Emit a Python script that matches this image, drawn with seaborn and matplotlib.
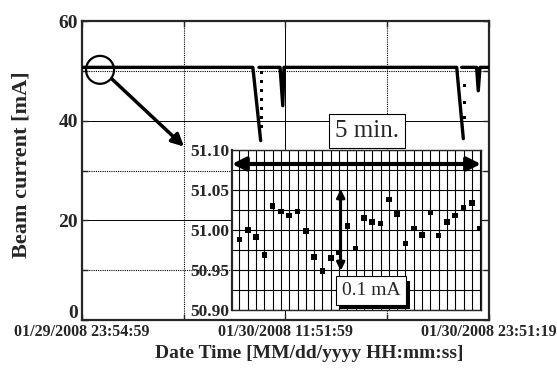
import numpy as np
import pandas as pd
import matplotlib
matplotlib.use("Agg")
import matplotlib.pyplot as plt
import matplotlib.patheffects as pe
from matplotlib.patches import Ellipse
from matplotlib.transforms import ScaledTranslation
import seaborn as sns

# main trace: hours since 01/29/2008 23:54:59, beam current [mA]
beam_seg = [0, 0, 0, 1, 1, 1, 1, 1, 1, 2, 2, 2, 2, 2]
beam_hours = [0.0, 10.05, 10.51, 10.41, 11.65, 11.81, 11.88, 22.04, 22.43, 22.33, 23.21, 23.31, 23.41, 23.94]
beam_ma = [50.7, 50.7, 36.0, 50.7, 50.7, 43.0, 50.7, 50.7, 36.4, 50.7, 50.7, 46.0, 50.7, 50.7]

# dotted refill points near the two big drops
dot_hours = [10.57, 10.57, 10.57, 10.57, 10.57, 10.57, 10.57, 22.49, 22.49, 22.49]
dot_ma = [49.6, 47.8, 46.0, 44.2, 42.4, 40.6, 38.8, 47.0, 43.7, 40.7]

tick_pos = [0.0, 11.95, 23.94]
tick_labels = ["01/29/2008 23:54:59", "01/30/2008 11:51:59", "01/30/2008 23:51:19"]

# inset: 5 minutes, one sample every 10 s
zoom_sec = [10, 20, 30, 40, 50, 60, 70, 80, 90, 100, 110, 120, 130, 140, 150,
            160, 170, 180, 190, 200, 210, 220, 230, 240, 250, 260, 270, 280, 290, 300]
zoom_ma = [50.988, 51.000, 50.991, 50.969, 51.030, 51.023, 51.018, 51.023, 50.999, 50.966,
           50.949, 50.965, 50.972, 51.005, 50.977, 51.015, 51.010, 51.008, 51.038, 51.020,
           50.983, 51.002, 50.994, 51.022, 50.993, 51.010, 51.018, 51.028, 51.034, 51.002]

sns.set_style("ticks")
plt.rcParams["font.family"] = ["Liberation Serif", "DejaVu Serif"]

beam_df = pd.DataFrame({"t": beam_hours, "I": beam_ma, "seg": beam_seg})
dot_df = pd.DataFrame({"t": dot_hours, "I": dot_ma})
zoom_df = pd.DataFrame({"s": zoom_sec, "I": zoom_ma})

fig = plt.figure(figsize=(5.57, 3.80), dpi=100)
ax = fig.add_axes([0.1472, 0.1579, 0.7307, 0.7868])

sns.lineplot(data=beam_df, x="t", y="I", units="seg", estimator=None, sort=False,
             color="black", lw=2.4, ax=ax, zorder=3)
sns.scatterplot(data=dot_df, x="t", y="I", color="black", s=4, marker="s",
                edgecolor="none", ax=ax, zorder=3)

ax.set_xlim(0, 23.94)
ax.set_ylim(0, 60)
ax.set_xticks(tick_pos)
ax.set_xticklabels(tick_labels, fontsize=11.5, fontweight="bold")
ax.set_xticks([5.98, 17.94], minor=True)
ax.set_yticks([0, 20, 40, 60])
ax.set_yticklabels(["0", "20", "40", "60"], fontsize=14, fontweight="bold")
ax.set_yticks([10, 30, 50], minor=True)
ax.tick_params(which="both", direction="in", length=4, width=1, top=True, right=True)
ax.tick_params(axis="x", pad=3)
ax.tick_params(axis="y", pad=3)
ax.grid(which="major", color="black", lw=0.7, ls="-")
ax.grid(which="minor", color="black", lw=0.8, ls=(0, (1, 1)))
ax.set_axisbelow(True)
for sp in ax.spines.values():
    sp.set_linewidth(1.6)
ax.set_xlabel("")
ax.set_ylabel("")
# the "0" label sits a little higher so it clears the date labels
zero_lbl = ax.get_yticklabels()[0]
zero_lbl.set_transform(zero_lbl.get_transform() + ScaledTranslation(0, 6 / 72, fig.dpi_scale_trans))

fig.text(309 / 557, 1 - 353 / 380, "Date Time [MM/dd/yyyy HH:mm:ss]", ha="center", va="center",
         fontsize=14, fontweight="bold")
fig.text(22 / 557, 1 - 165 / 380, "Beam current [mA]", ha="center", va="center",
         rotation=90, fontsize=16, fontweight="bold")

# circle + arrow pointing at the inset
ax.add_patch(Ellipse((1.06, 50.2), 1.65, 5.6, fill=False, lw=1.6, color="black", zorder=4))
ax.annotate("", xy=(6.0, 34.8), xytext=(1.75, 48.4),
            arrowprops=dict(arrowstyle="-|>", lw=2.5, color="black", mutation_scale=18,
                            shrinkA=0, shrinkB=0), zorder=4)

# inset
ax2 = fig.add_axes([0.4165, 0.1842, 0.447, 0.4211])
ax2.set_facecolor("white")
sns.scatterplot(data=zoom_df, x="s", y="I", color="black", marker="s", s=16,
                edgecolor="none", ax=ax2, zorder=3)
ax2.set_xlim(1, 301)
ax2.set_ylim(50.90, 51.10)
ax2.set_xticks(zoom_sec)
ax2.set_xticklabels([])
ax2.set_yticks([50.90, 50.95, 51.00, 51.05, 51.10])
ax2.set_yticklabels(["50.90", "50.95", "51.00", "51.05", "51.10"], fontsize=12.5, fontweight="bold")
ax2.set_yticks([50.925, 50.975, 51.025, 51.075], minor=True)
ax2.tick_params(which="both", length=0, pad=2)
ax2.grid(which="both", color="black", lw=0.8)
ax2.set_axisbelow(True)
ax2.set_xlabel("")
ax2.set_ylabel("")
for sp in ax2.spines.values():
    sp.set_linewidth(1.0)
ax2.spines["left"].set_linewidth(1.6)

ax2.annotate("", xy=(1, 51.0825), xytext=(301, 51.0825),
             arrowprops=dict(arrowstyle="<|-|>", lw=3, color="black", mutation_scale=20,
                             shrinkA=0, shrinkB=0))
ax2.annotate("", xy=(132, 51.051), xytext=(132, 50.949),
             arrowprops=dict(arrowstyle="<|-|>", lw=2, color="black", mutation_scale=12,
                             shrinkA=0, shrinkB=0))

t1 = ax2.text(168.5, 50.924, "0.1 mA", ha="center", va="center", fontsize=14, zorder=5,
              bbox=dict(boxstyle="square,pad=0.3", fc="white", ec="black", lw=0.8))
t1.get_bbox_patch().set_path_effects([
    pe.SimplePatchShadow(offset=(3, -3), shadow_rgbFace="black", alpha=1), pe.Normal()])

ax2.text(0.542, 1.119, "5 min.", transform=ax2.transAxes, ha="center", va="center",
         fontsize=18, clip_on=False, zorder=6,
         bbox=dict(boxstyle="square,pad=0.25", fc="white", ec="black", lw=0.8))

fig.savefig("out.png", dpi=100)
